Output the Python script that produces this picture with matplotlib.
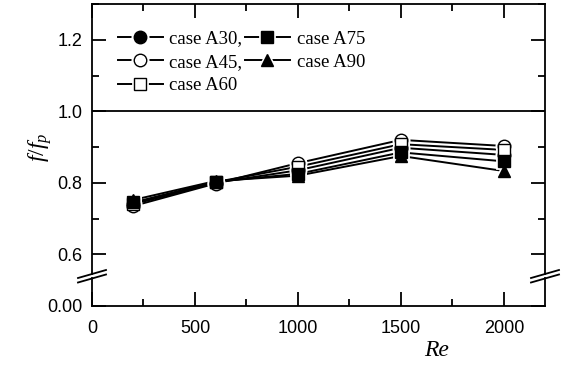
import matplotlib
matplotlib.use("Agg")
import matplotlib.pyplot as plt
from matplotlib.lines import Line2D
from matplotlib.legend_handler import HandlerTuple
from matplotlib.ticker import MultipleLocator, FormatStrFormatter

plt.rcParams['font.family'] = ['Liberation Sans', 'DejaVu Sans']
plt.rcParams['mathtext.fontset'] = 'custom'
plt.rcParams['mathtext.it'] = 'Liberation Serif:italic'
plt.rcParams['mathtext.rm'] = 'Liberation Serif'

# data
Re = [200, 600, 1000, 1500, 2000]
A30 = [0.740, 0.800, 0.835, 0.898, 0.878]
A45 = [0.735, 0.798, 0.855, 0.920, 0.903]
A60 = [0.742, 0.802, 0.845, 0.908, 0.892]
A75 = [0.745, 0.803, 0.825, 0.885, 0.860]
A90 = [0.752, 0.805, 0.820, 0.875, 0.833]

series = [A30, A45, A60, A75, A90]
labels = ["case A30,", "case A45,", "case A60", "case A75", "case A90"]
markers = ['o', 'o', 's', 's', '^']
fills = ['k', 'w', 'w', 'k', 'k']
sizes = [9, 9, 8, 8, 9]

W, H = 563, 365
fig = plt.figure(figsize=(W / 100, H / 100), dpi=100)

def px(x0, y0, x1, y1):
    return [x0 / W, 1 - y1 / H, (x1 - x0) / W, (y1 - y0) / H]

ax = fig.add_axes(px(92, 4, 545, 274))
axb = fig.add_axes(px(92, 278, 545, 306))

lw = 1.4
for a in (ax, axb):
    for s in a.spines.values():
        s.set_linewidth(1.3)
    a.set_xlim(0, 2200)
    a.xaxis.set_major_locator(MultipleLocator(500))
    a.xaxis.set_minor_locator(MultipleLocator(250))
    a.tick_params(which='both', direction='in', top=True, right=True,
                  width=1.3, labelsize=13, pad=7)
    a.tick_params(which='major', length=10)
    a.tick_params(which='minor', length=5)

ax.spines['bottom'].set_visible(False)
ax.tick_params(which='both', bottom=False, labelbottom=False)
axb.spines['top'].set_visible(False)
axb.tick_params(which='both', top=False)
axb.tick_params(axis='x', pad=10)

ax.set_ylim(0.545, 1.3)
ax.yaxis.set_major_locator(MultipleLocator(0.2))
ax.yaxis.set_minor_locator(MultipleLocator(0.1))
ax.yaxis.set_major_formatter(FormatStrFormatter('%.1f'))

axb.set_ylim(0, 0.05)
axb.set_yticks([0])
axb.yaxis.set_major_formatter(FormatStrFormatter('%.2f'))
axb.yaxis.set_minor_locator(plt.NullLocator())

ax.axhline(1.0, color='k', lw=1.3, zorder=1)

handles = []
for y, lab, m, fc, ms in zip(series, labels, markers, fills, sizes):
    ax.plot(Re, y, '-', color='k', lw=lw, zorder=2)
    ax.plot(Re, y, m, ms=ms + 2, mfc='w', mec='w', mew=2, zorder=3)
    ax.plot(Re, y, m, ms=ms, mfc=fc, mec='k', mew=1.0, zorder=4)
    h_line = Line2D([], [], color='k', lw=lw)
    h_halo = Line2D([], [], ls='none', marker=m, ms=ms + 2, mfc='w', mec='w', mew=2)
    h_mark = Line2D([], [], ls='none', marker=m, ms=ms, mfc=fc, mec='k', mew=1.0)
    handles.append((h_line, h_halo, h_mark))

ax.legend(handles, labels, handler_map={tuple: HandlerTuple(ndivide=1, pad=0)},
          ncol=2, loc='upper left', bbox_to_anchor=(0.04, 0.93), frameon=False,
          prop={'family': 'Liberation Serif', 'size': 13.5},
          handlelength=2.4, handletextpad=0.35, columnspacing=0.15,
          labelspacing=0.33, borderaxespad=0)

# axis-break slashes
for xc in (92, 545):
    for yc in (274, 278.5):
        fig.add_artist(Line2D([(xc - 14) / W, (xc + 14) / W],
                              [1 - (yc + 4) / H, 1 - (yc - 4) / H],
                              color='k', lw=1.3, transform=fig.transFigure))

fig.text(40 / W, 1 - 147 / H, r'$f/f_p$', rotation=90, fontsize=17,
         ha='center', va='center')
fig.text(437 / W, 1 - 350 / H, 'Re', fontsize=17, family='Liberation Serif',
         style='italic', ha='center', va='center')

fig.savefig('out.png', dpi=100)
